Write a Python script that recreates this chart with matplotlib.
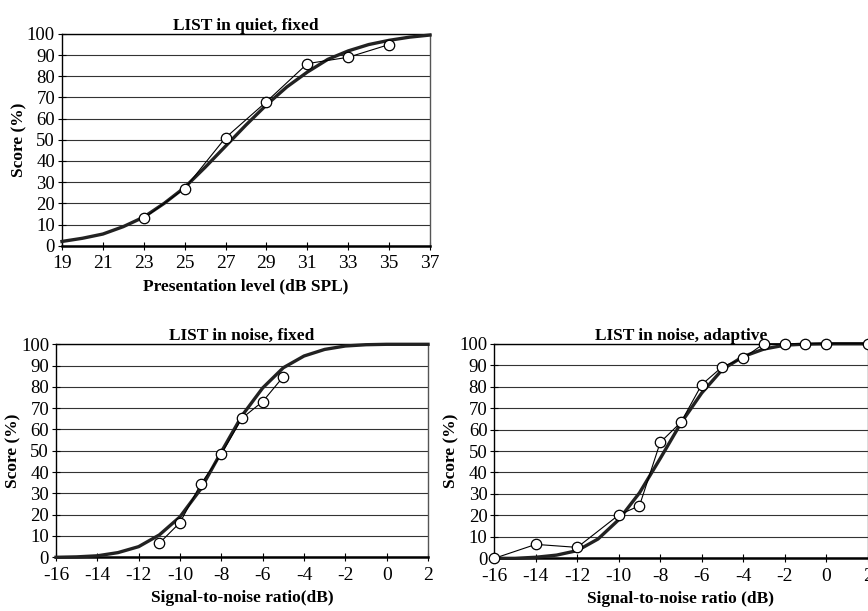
import numpy as np
import matplotlib
matplotlib.use('Agg')
import matplotlib.pyplot as plt

plt.rcParams['font.family'] = ['Liberation Serif', 'DejaVu Serif']
plt.rcParams['font.size'] = 12
plt.rcParams['axes.unicode_minus'] = False

# --- LIST in quiet, fixed ---
quiet_x = [23, 25, 27, 29, 31, 33, 35]
quiet_y = [13, 27, 51, 68, 86, 89, 95]
quiet_fit_x = [19, 20, 21, 22, 23, 24, 25, 26, 27, 28, 29, 30, 31, 32, 33, 34, 35, 36, 37]
quiet_fit_y = [2, 3.5, 5.5, 9, 13.5, 20, 27.5, 37, 47, 57, 66.5, 75, 82, 88, 92, 95, 97, 98.5, 99.5]

# --- LIST in noise, fixed ---
nfix_x = [-11, -10, -9, -8, -7, -6, -5]
nfix_y = [6.6, 16.3, 34.3, 48.4, 65.3, 73.1, 84.8]
nfix_fit_x = [-16, -15, -14, -13, -12, -11, -10, -9, -8, -7, -6, -5, -4, -3, -2, -1, 0, 1, 2]
nfix_fit_y = [0, 0.2, 0.7, 2.2, 5, 10.5, 19, 32, 49.5, 66.5, 79.5, 89, 94.5, 97.6, 99.2, 99.8, 100, 100, 100]

# --- LIST in noise, adaptive ---
nada_x = [-16, -14, -12, -10, -9, -8, -7, -6, -5, -4, -3, -2, -1, 0, 2]
nada_y = [0, 6.5, 5.1, 20.2, 24.5, 54, 63.4, 80.9, 89.3, 93.2, 100, 100, 100, 100, 100]
nada_fit_x = [-16, -15, -14, -13, -12, -11, -10, -9, -8, -7, -6, -5, -4, -3, -2, -1, 0, 1, 2]
nada_fit_y = [0, 0, 0.5, 1.5, 3.6, 9, 18, 30.5, 46.5, 63, 77, 88, 94, 97.5, 99.3, 99.8, 100, 100, 100]

fig = plt.figure(figsize=(8.68, 6.11), dpi=100)

ax1 = fig.add_axes([0.0714, 0.5979, 0.424, 0.3465])
ax2 = fig.add_axes([0.0645, 0.0879, 0.4286, 0.3486])
ax3 = fig.add_axes([0.5695, 0.0862, 0.4300, 0.3513])

panels = [
    (ax1, quiet_x, quiet_y, quiet_fit_x, quiet_fit_y, 'LIST in quiet, fixed',
     'Presentation level (dB SPL)', (19, 37), np.arange(19, 38, 2)),
    (ax2, nfix_x, nfix_y, nfix_fit_x, nfix_fit_y, 'LIST in noise, fixed',
     'Signal-to-noise ratio(dB)', (-16, 2), np.arange(-16, 3, 2)),
    (ax3, nada_x, nada_y, nada_fit_x, nada_fit_y, 'LIST in noise, adaptive',
     'Signal-to-noise ratio (dB)', (-16, 2), np.arange(-16, 3, 2)),
]

for ax, x, y, fx, fy, title, xlabel, xlim, xticks in panels:
    ax.plot(fx, fy, color='#222222', lw=2.4, zorder=3, clip_on=False)
    ax.plot(x, y, color='black', lw=0.8, marker='o', ms=7.5, mfc='white',
            mec='black', mew=0.9, zorder=4, clip_on=False)
    ax.set_xlim(xlim)
    ax.set_ylim(0, 100)
    ax.set_xticks(xticks)
    ax.set_yticks(np.arange(0, 101, 10))
    ax.yaxis.grid(True, color='#333333', lw=0.8)
    ax.set_axisbelow(True)
    ax.set_title(title, fontweight='bold', fontsize=12.5, pad=2)
    ax.set_xlabel(xlabel, fontweight='bold', fontsize=12.5, labelpad=4)
    ax.set_ylabel('Score (%)', fontweight='bold', fontsize=12.5, labelpad=0)
    ax.tick_params(axis='both', direction='inout', length=6, width=0.8)
    ax.tick_params(axis='x', pad=4, labelsize=14)
    ax.tick_params(axis='y', pad=2, labelsize=13.5)
    for s in ax.spines.values():
        s.set_linewidth(1.0)
        s.set_color('black')
    ax.spines['bottom'].set_linewidth(1.8)
    ax.spines['right'].set_color('#555555')

fig.savefig('out.png', dpi=100)
